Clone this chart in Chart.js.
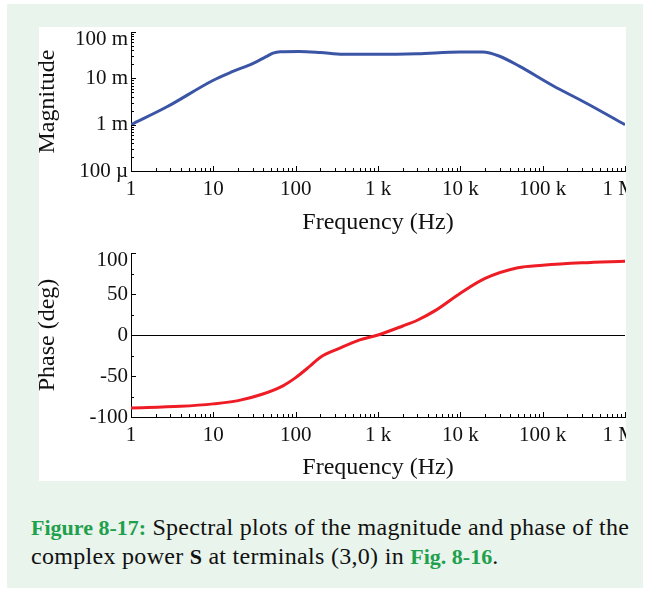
<!DOCTYPE html>
<html>
<head>
<meta charset="utf-8">
<script src="https://cdn.jsdelivr.net/npm/chart.js@4"></script>
<style>
  body { margin: 0; background: #fff; width: 648px; height: 590px; position: relative; overflow: hidden; }
  #panel { position: absolute; left: 7px; top: 4px; width: 636px; height: 584px; background: #e9f4ec; }
  #white { position: absolute; left: 39px; top: 27px; width: 587px; height: 454px; background: #fff; }
  canvas { position: absolute; }
  #magBox { position: absolute; left: 25px; top: 20px; width: 601px; height: 217px; }
  #phBox { position: absolute; left: 25px; top: 240px; width: 601px; height: 242px; }
  #cap { position: absolute; left: 31px; top: 513px; width: 614px; font-family: 'Liberation Serif', serif; font-size: 24px; letter-spacing: 0.3px; line-height: 28px; color: #111; }
  #cap b { font-size: 22px; letter-spacing: 0; }
  #cap .g { color: #1fa04c; }
</style>
</head>
<body>
<div id="panel"></div>
<div id="white"></div>
<div id="magBox"><canvas id="magChart"></canvas></div>
<div id="phBox"><canvas id="phChart"></canvas></div>
<div id="cap"><b class="g">Figure 8-17:</b> Spectral plots of the magnitude and phase of the complex power <b>S</b> at terminals (3,0) in <b class="g">Fig. 8-16</b>.</div>
<script>
// magnitude curve
const magFreq = [1, 2.7, 10, 17, 30, 44.6, 53, 65, 110, 200, 375, 1000, 3000, 10000, 18600, 30000, 52000, 132000, 340000, 1000000];
const magVal = [1.0e-3, 2.4e-3, 9.1e-3, 0.0139, 0.0208, 0.0297, 0.035, 0.0375, 0.038, 0.036, 0.033, 0.033, 0.034, 0.037, 0.037, 0.030, 0.0183, 0.0070, 0.0029, 1.0e-3];

// phase curve (deg)
const phaseFreq = [1, 4, 10, 20, 40, 70, 100, 149, 200, 344, 600, 1000, 2000, 3000, 5000, 10000, 20000, 50000, 100000, 300000, 1000000];
const phaseVal = [-89, -87, -84, -80, -72, -62, -52, -38, -27, -16, -6, 0, 11, 18, 30, 51, 69, 82, 85, 88, 90];

// axis ticks
const freqTicks = [1, 10, 100, 1000, 10000, 100000, 1000000];
const freqLabels = ['1', '10', '100', '1 k', '10 k', '100 k', '1 M\u2002'];
const magTicks = [1e-4, 1e-3, 1e-2, 1e-1];
const magLabels = ['100 \u00b5', '1 m', '10 m', '100 m'];
const phaseTicks = [-100, -50, 0, 50, 100];
const phaseLabels = ['-100', '-50', '0', '50', '100'];
const phaseMinor = [-75, -25, 25, 75];

const FONT = 'Liberation Serif';

function logMinor(majors) {
  const out = [];
  majors.forEach((m, i) => {
    if (i === majors.length - 1) { out.push(m); return; }
    for (let k = 1; k <= 9; k++) out.push(m * k);
  });
  return out;
}

function findTick(ticks, v) {
  return ticks.findIndex(t => Math.abs(t - v) / Math.abs(t || 1) < 1e-6);
}

function labelFor(ticks, labels) {
  return function (v) {
    const i = findTick(ticks, v);
    if (i < 0) return '';
    // the top label sits just below the axis end, as in the original
    if (i === ticks.length - 1 && this.axis === 'y') return ['', labels[i]];
    return labels[i];
  };
}

function yFont(ticks) {
  return c => ({ family: FONT, size: 21, lineHeight: (c.tick && findTick(ticks, c.tick.value) === ticks.length - 1) ? 0.67 : 1.2 });
}

// inward tick marks like the original plot
const inTicks = {
  id: 'inTicks',
  afterDraw(chart, args, opts) {
    const c = chart.ctx;
    c.save();
    c.strokeStyle = '#000';
    c.lineWidth = 1;
    const xs = chart.scales.x, ys = chart.scales.y;
    xs.ticks.forEach(t => {
      const px = Math.round(xs.getPixelForValue(t.value)) + 0.5;
      const len = findTick(opts.xMajor, t.value) >= 0 ? 5 : 3;
      c.beginPath(); c.moveTo(px, xs.top); c.lineTo(px, xs.top - len); c.stroke();
    });
    ys.ticks.forEach(t => {
      const py = Math.round(ys.getPixelForValue(t.value)) + 0.5;
      const len = findTick(opts.yMajor, t.value) >= 0 ? 5 : 3;
      c.beginPath(); c.moveTo(ys.right, py); c.lineTo(ys.right + len, py); c.stroke();
    });
    c.restore();
  }
};

function xAxis(h, titleTop) {
  return {
    type: 'logarithmic',
    min: 1, max: 1000000,
    afterBuildTicks: s => { s.ticks = logMinor(freqTicks).map(v => ({ value: v })); },
    afterFit: s => { s.paddingLeft = 0; s.paddingRight = 0; s.height = h; },
    grid: { display: false, drawTicks: false },
    border: { display: true, color: '#000', width: 1 },
    ticks: {
      autoSkip: false, maxRotation: 0, padding: 6, color: '#111',
      font: { family: FONT, size: 21 },
      callback: labelFor(freqTicks, freqLabels)
    },
    title: { display: true, text: 'Frequency (Hz)', color: '#111', font: { family: FONT, size: 24 }, padding: { top: titleTop, bottom: 0 } }
  };
}

function yFit(s) { s.width = 106; s.paddingTop = 0; s.paddingBottom = 0; }

new Chart(document.getElementById('magChart'), {
  type: 'scatter',
  data: {
    datasets: [{
      data: magFreq.map((f, i) => ({ x: f, y: magVal[i] })),
      showLine: true, borderColor: '#3b55a6', borderWidth: 3, pointRadius: 0,
      cubicInterpolationMode: 'monotone'
    }]
  },
  options: {
    responsive: true, maintainAspectRatio: false, animation: false,
    layout: { padding: { top: 12, right: 1, left: 0, bottom: 0 } },
    plugins: { legend: { display: false }, tooltip: { enabled: false }, inTicks: { xMajor: freqTicks, yMajor: magTicks } },
    scales: {
      x: xAxis(66, 2),
      y: {
        type: 'logarithmic',
        min: 1e-4, max: 0.1,
        afterBuildTicks: s => { s.ticks = logMinor(magTicks).map(v => ({ value: v })); },
        afterFit: yFit,
        grid: { display: false, drawTicks: false },
        border: { display: true, color: '#000', width: 1 },
        ticks: { autoSkip: false, padding: 3, color: '#111', font: yFont(magTicks), callback: labelFor(magTicks, magLabels) },
        title: { display: true, text: 'Magnitude', color: '#111', font: { family: FONT, size: 24 }, padding: { top: 8, bottom: 0 } }
      }
    }
  },
  plugins: [inTicks]
});

new Chart(document.getElementById('phChart'), {
  type: 'scatter',
  data: {
    datasets: [{
      data: phaseFreq.map((f, i) => ({ x: f, y: phaseVal[i] })),
      showLine: true, borderColor: '#ee1c25', borderWidth: 3, pointRadius: 0,
      cubicInterpolationMode: 'monotone'
    }]
  },
  options: {
    responsive: true, maintainAspectRatio: false, animation: false,
    layout: { padding: { top: 13, right: 1, left: 0, bottom: 0 } },
    plugins: { legend: { display: false }, tooltip: { enabled: false }, inTicks: { xMajor: freqTicks, yMajor: phaseTicks } },
    scales: {
      x: xAxis(65, 1),
      y: {
        min: -100, max: 100,
        afterBuildTicks: s => { s.ticks = phaseTicks.concat(phaseMinor).sort((a, b) => a - b).map(v => ({ value: v })); },
        afterFit: yFit,
        grid: { display: true, drawTicks: false, lineWidth: 1, color: c => (c.tick && c.tick.value === 0 ? '#000' : 'rgba(0,0,0,0)') },
        border: { display: true, color: '#000', width: 1 },
        ticks: { autoSkip: false, padding: 3, color: '#111', font: yFont(phaseTicks), callback: labelFor(phaseTicks, phaseLabels) },
        title: { display: true, text: 'Phase (deg)', color: '#111', font: { family: FONT, size: 24 }, padding: { top: 8, bottom: 0 } }
      }
    }
  },
  plugins: [inTicks]
});
</script>
</body>
</html>
